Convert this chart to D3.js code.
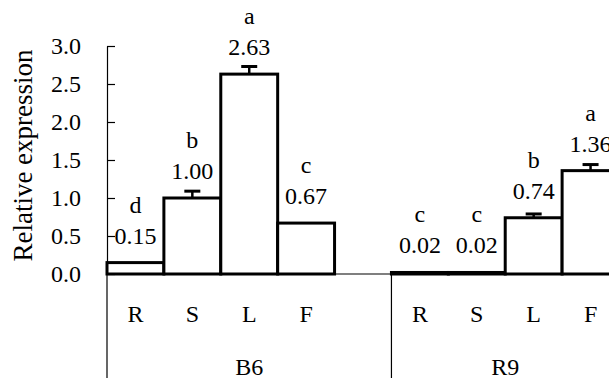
<!DOCTYPE html>
<html>
<head>
  <meta charset="utf-8">
  <script src="https://d3js.org/d3.v7.min.js"></script>
  <style>
    body { margin: 0; background: #fff; }
  </style>
</head>
<body>
<script>
  // chart data
  var groups = ["B6", "R9"];
  var tissues = ["R", "S", "L", "F"];
  var b6Values = [0.15, 1.00, 2.63, 0.67];
  var b6Errors = [0, 0.09, 0.10, 0];
  var b6Letters = ["d", "b", "a", "c"];
  var r9Values = [0.02, 0.02, 0.74, 1.36];
  var r9Errors = [0, 0, 0.05, 0.08];
  var r9Letters = ["c", "c", "b", "a"];
  var yTicks = [0, 0.5, 1.0, 1.5, 2.0, 2.5, 3.0];

  var width = 609, height = 378;
  var plotLeft = 107, plotRight = 619, plotBase = 274, plotTop = 46;
  var serif = "Liberation Serif";

  // one blank slot after B6, as in the original spreadsheet layout
  var slots = [];
  groups.forEach(function (g, gi) {
    tissues.forEach(function (t) { slots.push(g + "-" + t); });
    if (gi < groups.length - 1) slots.push(g + "-gap");
  });

  var rows = [];
  [[b6Values, b6Errors, b6Letters], [r9Values, r9Errors, r9Letters]].forEach(function (s, gi) {
    tissues.forEach(function (t, i) {
      rows.push({ group: groups[gi], tissue: t, key: groups[gi] + "-" + t,
                  value: s[0][i], err: s[1][i], letter: s[2][i] });
    });
  });

  var x = d3.scaleBand().domain(slots).range([plotLeft, plotRight]).padding(0);
  var y = d3.scaleLinear().domain([0, 3]).range([plotBase, plotTop]);
  var cx = function (d) { return x(d.key) + x.bandwidth() / 2; };

  var svg = d3.select("body").append("svg")
      .attr("width", width)
      .attr("height", height);

  // y axis, ticks pointing inward
  var yAxis = svg.append("g")
      .attr("transform", "translate(" + plotLeft + ",0)")
      .call(d3.axisLeft(y).tickValues(yTicks).tickFormat(d3.format(".1f"))
            .tickSizeInner(-8).tickSizeOuter(0).tickPadding(26));
  yAxis.select(".domain").attr("stroke", "#000").attr("stroke-width", 1.2);
  yAxis.selectAll(".tick line").attr("stroke", "#000").attr("stroke-width", 1.2);
  yAxis.selectAll(".tick text")
      .attr("x", -26)
      .attr("fill", "#000")
      .attr("font-family", serif)
      .attr("font-size", 24);

  svg.append("text")
      .attr("transform", "translate(32,155.5) rotate(-90)")
      .attr("text-anchor", "middle")
      .attr("font-family", serif)
      .attr("font-size", 27)
      .text("Relative expression");

  // bars
  svg.selectAll("rect.bar").data(rows).enter().append("rect")
      .attr("class", "bar")
      .attr("x", function (d) { return x(d.key); })
      .attr("width", x.bandwidth())
      .attr("y", function (d) { return y(d.value); })
      .attr("height", function (d) { return plotBase - y(d.value); })
      .attr("fill", "#fff")
      .attr("stroke", "#000")
      .attr("stroke-width", 3);

  // error bars (upper only)
  var eb = svg.selectAll("g.err").data(rows.filter(function (d) { return d.err > 0; }))
      .enter().append("g").attr("class", "err");
  eb.append("line")
      .attr("x1", cx).attr("x2", cx)
      .attr("y1", function (d) { return y(d.value); })
      .attr("y2", function (d) { return y(d.value + d.err); })
      .attr("stroke", "#000").attr("stroke-width", 2.5);
  eb.append("line")
      .attr("x1", function (d) { return cx(d) - 8; })
      .attr("x2", function (d) { return cx(d) + 8; })
      .attr("y1", function (d) { return y(d.value + d.err); })
      .attr("y2", function (d) { return y(d.value + d.err); })
      .attr("stroke", "#000").attr("stroke-width", 3);

  // value labels and letters
  svg.selectAll("text.val").data(rows).enter().append("text")
      .attr("class", "val")
      .attr("x", cx)
      .attr("y", function (d) { return y(d.value) - 19; })
      .attr("text-anchor", "middle")
      .attr("font-family", serif)
      .attr("font-size", 24)
      .text(function (d) { return d3.format(".2f")(d.value); });
  svg.selectAll("text.let").data(rows).enter().append("text")
      .attr("class", "let")
      .attr("x", cx)
      .attr("y", function (d) { return y(d.value) - 50; })
      .attr("text-anchor", "middle")
      .attr("font-family", serif)
      .attr("font-size", 24)
      .text(function (d) { return d.letter; });

  // category axis baseline and separators
  svg.append("line")
      .attr("x1", plotLeft).attr("x2", plotRight).attr("y1", plotBase).attr("y2", plotBase)
      .attr("stroke", "#000").attr("stroke-width", 1.2);
  var groupStarts = groups.map(function (g) { return x(g + "-" + tissues[0]); });
  groupStarts.forEach(function (gx) {
    svg.append("line")
        .attr("x1", gx).attr("x2", gx).attr("y1", plotBase).attr("y2", height)
        .attr("stroke", "#000").attr("stroke-width", 1.2);
  });

  svg.selectAll("text.cat").data(rows).enter().append("text")
      .attr("class", "cat")
      .attr("x", cx)
      .attr("y", 322)
      .attr("text-anchor", "middle")
      .attr("font-family", serif)
      .attr("font-size", 24)
      .text(function (d) { return d.tissue; });

  svg.selectAll("text.grp").data(groups).enter().append("text")
      .attr("class", "grp")
      .attr("x", function (g, i) {
        var end = i < groups.length - 1 ? groupStarts[i + 1] : plotRight;
        return (groupStarts[i] + end) / 2;
      })
      .attr("y", 375)
      .attr("text-anchor", "middle")
      .attr("font-family", serif)
      .attr("font-size", 24)
      .text(function (g) { return g; });
</script>
</body>
</html>
